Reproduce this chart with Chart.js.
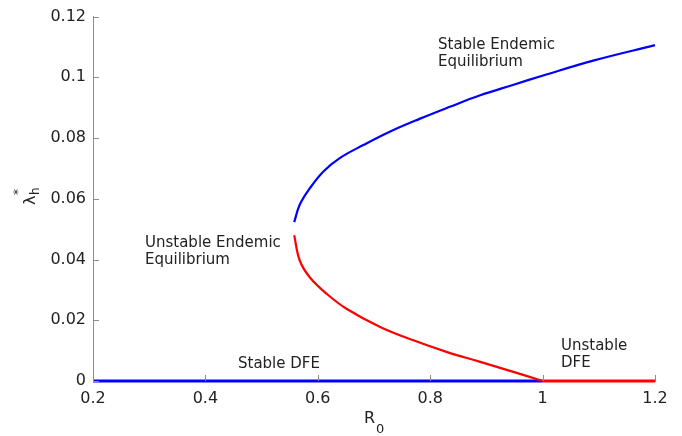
<!DOCTYPE html>
<html>
<head>
<meta charset="utf-8">
<script src="https://cdn.jsdelivr.net/npm/chart.js@4/dist/chart.umd.min.js"></script>
<style>
  html, body { margin:0; padding:0; background:#fff; }
  #wrap { width:682px; height:436px; position:relative; }
</style>
</head>
<body>
<div id="wrap"><canvas id="chart" width="682" height="436"></canvas></div>
<script>
/* ── data ── */
const xTicks = [0.2, 0.4, 0.6, 0.8, 1, 1.2];
const yTicks = [0, 0.02, 0.04, 0.06, 0.08, 0.1, 0.12];

// stable endemic equilibrium (upper branch, blue)
const stableEEx = [0.558, 0.568, 0.586, 0.610, 0.639, 0.681, 0.728, 0.782, 0.835, 0.889, 0.947, 1.001, 1.090, 1.2];
const stableEEy = [0.0523, 0.0581, 0.0635, 0.0690, 0.0734, 0.0777, 0.0821, 0.0864, 0.0903, 0.0941, 0.0975, 0.1006, 0.1055, 0.1106];

// unstable endemic equilibrium (lower branch, red)
const unstableEEx = [0.558, 0.568, 0.586, 0.616, 0.651, 0.711, 0.770, 0.829, 0.889, 0.948, 1.0];
const unstableEEy = [0.0480, 0.0396, 0.0341, 0.0287, 0.0238, 0.0178, 0.0134, 0.0096, 0.0063, 0.0030, 0];

// disease free equilibrium
const stableDFEx = [0.2, 1.0];
const stableDFEy = [0, 0];
const unstableDFEx = [1.0, 1.2];
const unstableDFEy = [0, 0];

const labels = [
  { lines: ['Stable Endemic', 'Equilibrium'], x: 438, y: 49 },
  { lines: ['Unstable Endemic', 'Equilibrium'], x: 145, y: 247 },
  { lines: ['Stable DFE'], x: 238, y: 368 },
  { lines: ['Unstable', 'DFE'], x: 561, y: 350 },
];

const pts = (xs, ys) => xs.map((x, i) => ({ x, y: ys[i] }));
const FONT = "'DejaVu Sans', sans-serif";
const TXT = '#222';
const AXIS = '#8c8c8c';

// inward tick marks, text labels, axis titles
const decor = {
  id: 'decor',
  afterDraw(chart) {
    const { ctx, chartArea: ca, scales: { x, y } } = chart;
    ctx.save();
    ctx.strokeStyle = AXIS;
    ctx.lineWidth = 1;
    ctx.beginPath();
    xTicks.forEach(v => {
      const px = Math.round(x.getPixelForValue(v)) + 0.5;
      ctx.moveTo(px, ca.bottom); ctx.lineTo(px, ca.bottom - 6);
    });
    yTicks.forEach(v => {
      const py = Math.round(y.getPixelForValue(v)) + 0.5;
      ctx.moveTo(ca.left, py); ctx.lineTo(ca.left + 6, py);
    });
    ctx.stroke();

    ctx.fillStyle = TXT;
    ctx.font = '15px ' + FONT;
    ctx.textAlign = 'left';
    ctx.textBaseline = 'alphabetic';
    labels.forEach(l => l.lines.forEach((s, i) => ctx.fillText(s, l.x, l.y + i * 17)));

    // x title: R_0
    ctx.font = '16px ' + FONT;
    const cx = (ca.left + ca.right) / 2;
    ctx.fillText('R', cx - 10, 423);
    ctx.font = '13px ' + FONT;
    ctx.fillText('0', cx + 2, 433);

    // y title: λ*_h rotated
    ctx.translate(35, 205);
    ctx.rotate(-Math.PI / 2);
    ctx.font = '16px ' + FONT;
    ctx.fillText('λ', 0, 0);
    ctx.font = '12px ' + FONT;
    ctx.fillText('h', 10, 4);
    ctx.fillText('*', 10, -13);
    ctx.restore();
  }
};

const line = (data, color, width) => ({
  data, borderColor: color, backgroundColor: color, borderWidth: width,
  showLine: true, pointRadius: 0, fill: false, clip: 4, tension: 0.4,
});

new Chart(document.getElementById('chart'), {
  type: 'scatter',
  data: {
    datasets: [
      line(pts(stableEEx, stableEEy), '#0000ff', 2.2),
      line(pts(unstableEEx, unstableEEy), '#ff0000', 2.2),
      line(pts(stableDFEx, stableDFEy), '#0000ff', 3),
      line(pts(unstableDFEx, unstableDFEy), '#ff0000', 3),
    ],
  },
  options: {
    responsive: false, animation: false,
    layout: { padding: { left: 0, right: 27, top: 14, bottom: 0 } },
    plugins: { legend: { display: false }, tooltip: { enabled: false } },
    scales: {
      x: {
        type: 'linear', min: 0.2, max: 1.2,
        afterBuildTicks: s => { s.ticks = xTicks.map(v => ({ value: v })); },
        afterFit: s => { s.height = 55; },
        grid: { display: false, drawTicks: false },
        border: { display: true, color: AXIS, width: 1 },
        ticks: { color: TXT, font: { family: FONT, size: 16 }, padding: 8, maxRotation: 0,
          callback: v => String(parseFloat(v.toFixed(2))) },
      },
      y: {
        type: 'linear', min: 0, max: 0.12,
        afterBuildTicks: s => { s.ticks = yTicks.map(v => ({ value: v })); },
        afterFit: s => { s.width = 93; },
        grid: { display: false, drawTicks: false },
        border: { display: true, color: AXIS, width: 1 },
        ticks: { color: TXT, font: { family: FONT, size: 16 }, padding: 7,
          callback: v => String(parseFloat(v.toFixed(2))) },
      },
    },
  },
  plugins: [decor],
});
</script>
</body>
</html>
